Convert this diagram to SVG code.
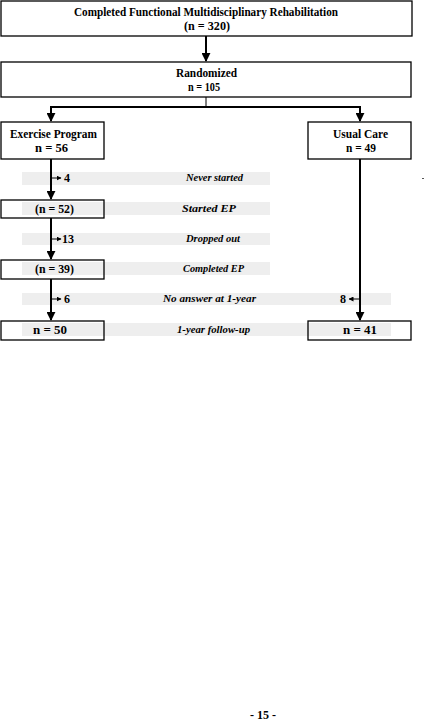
<svg xmlns="http://www.w3.org/2000/svg" width="425" height="725" viewBox="0 0 425 725">
<style>
.box{fill:none;stroke:#000;stroke-width:1.3}
.band{fill:#eeeeee}
.ln{stroke:#000;stroke-width:2;fill:none}
.thin{stroke:#000;stroke-width:1;fill:none}
.t{font-family:"Liberation Serif","Times New Roman",serif;font-weight:bold;font-size:12px;text-anchor:middle;fill:#000}
.n{font-family:"Liberation Serif","Times New Roman",serif;font-weight:bold;font-size:12px;fill:#000}
.i{font-family:"Liberation Serif","Times New Roman",serif;font-weight:bold;font-style:italic;font-size:10px;text-anchor:middle;fill:#000}
</style>
<defs>
<marker id="ah" viewBox="0 0 10 10" refX="9" refY="5" markerWidth="4.5" markerHeight="4.5" orient="auto" markerUnits="strokeWidth"><path d="M0,0 L10,5 L0,10 z" fill="#000"/></marker>
<marker id="as" viewBox="0 0 10 10" refX="9" refY="5" markerWidth="5" markerHeight="5" orient="auto" markerUnits="strokeWidth"><path d="M0,0 L10,5 L0,10 z" fill="#000"/></marker>
</defs>
<g id="bands">
<rect class="band" x="22" y="172" width="248" height="13"/>
<rect class="band" x="22" y="202" width="248" height="13"/>
<rect class="band" x="22" y="233" width="248" height="12"/>
<rect class="band" x="22" y="262" width="248" height="13"/>
<rect class="band" x="22" y="293" width="369" height="12"/>
<rect class="band" x="22" y="323" width="369" height="13"/>
</g>
<g id="connectors">
<line class="ln" x1="206" y1="36" x2="206" y2="61" marker-end="url(#ah)"/>
<line class="thin" x1="206" y1="97" x2="206" y2="107"/>
<polyline class="ln" points="51,121 51,107 360,107 360,121"/>
<line class="ln" x1="51" y1="108" x2="51" y2="121" marker-end="url(#ah)"/>
<line class="ln" x1="360" y1="108" x2="360" y2="121" marker-end="url(#ah)"/>
<line class="ln" x1="51" y1="159" x2="51" y2="199" marker-end="url(#ah)"/>
<line class="ln" x1="51" y1="218" x2="51" y2="259" marker-end="url(#ah)"/>
<line class="ln" x1="51" y1="279" x2="51" y2="320" marker-end="url(#ah)"/>
<line class="ln" x1="360" y1="159" x2="360" y2="320" marker-end="url(#ah)"/>
<line class="thin" x1="52" y1="178" x2="61" y2="178" marker-end="url(#as)"/>
<line class="thin" x1="52" y1="239" x2="61" y2="239" marker-end="url(#as)"/>
<line class="thin" x1="52" y1="299" x2="61" y2="299" marker-end="url(#as)"/>
<line class="thin" x1="359" y1="299" x2="349" y2="299" marker-end="url(#as)"/>
</g>
<g id="n-top">
<rect class="box" x="1" y="1" width="411" height="35"/>
<text class="t" x="206" y="16" textLength="264" lengthAdjust="spacingAndGlyphs">Completed Functional Multidisciplinary Rehabilitation</text>
<text class="t" x="207" y="30" textLength="46" lengthAdjust="spacingAndGlyphs">(n = 320)</text>
</g>
<g id="n-rand">
<rect class="box" x="1" y="62" width="410" height="35"/>
<text class="t" x="206.5" y="77" textLength="61" lengthAdjust="spacingAndGlyphs">Randomized</text>
<text class="t" x="204" y="91" textLength="32" lengthAdjust="spacingAndGlyphs">n = 105</text>
</g>
<g id="n-ep">
<rect class="box" x="1" y="122" width="103" height="37"/>
<text class="t" x="53.5" y="138" textLength="87" lengthAdjust="spacingAndGlyphs">Exercise Program</text>
<text class="t" x="51.5" y="152" textLength="33" lengthAdjust="spacingAndGlyphs">n = 56</text>
</g>
<g id="n-uc">
<rect class="box" x="308" y="122" width="103" height="37"/>
<text class="t" x="360.5" y="138" textLength="55" lengthAdjust="spacingAndGlyphs">Usual Care</text>
<text class="t" x="361" y="152" textLength="30" lengthAdjust="spacingAndGlyphs">n = 49</text>
</g>
<g id="n-never">
<text class="n" x="64" y="182">4</text>
<text class="i" x="214.5" y="181" textLength="57" lengthAdjust="spacingAndGlyphs">Never started</text>
</g>
<g id="n-52">
<rect class="box" x="1" y="200" width="103" height="18"/>
<text class="t" x="54.5" y="213" textLength="39" lengthAdjust="spacingAndGlyphs">(n = 52)</text>
<text class="i" x="209" y="212" textLength="54" lengthAdjust="spacingAndGlyphs">Started EP</text>
</g>
<g id="n-drop">
<text class="n" x="62" y="243">13</text>
<text class="i" x="213" y="242" textLength="54" lengthAdjust="spacingAndGlyphs">Dropped out</text>
</g>
<g id="n-39">
<rect class="box" x="1" y="260" width="103" height="19"/>
<text class="t" x="54.5" y="273" textLength="39" lengthAdjust="spacingAndGlyphs">(n = 39)</text>
<text class="i" x="213.5" y="272" textLength="61" lengthAdjust="spacingAndGlyphs">Completed EP</text>
</g>
<g id="n-noans">
<text class="n" x="64" y="303">6</text>
<text class="i" x="209.5" y="302" textLength="93" lengthAdjust="spacingAndGlyphs">No answer at 1-year</text>
<text class="n" x="340" y="303">8</text>
</g>
<g id="n-50">
<rect class="box" x="1" y="321" width="103" height="19"/>
<text class="t" x="50" y="334" textLength="34" lengthAdjust="spacingAndGlyphs">n = 50</text>
<text class="i" x="213.5" y="333" textLength="73" lengthAdjust="spacingAndGlyphs">1-year follow-up</text>
</g>
<g id="n-41">
<rect class="box" x="308" y="321" width="103" height="19"/>
<text class="t" x="360" y="334" textLength="34" lengthAdjust="spacingAndGlyphs">n = 41</text>
</g>
<rect x="422" y="178" width="2" height="1" fill="#555"/>
<text class="t" x="263" y="719">- 15 -</text>
</svg>
